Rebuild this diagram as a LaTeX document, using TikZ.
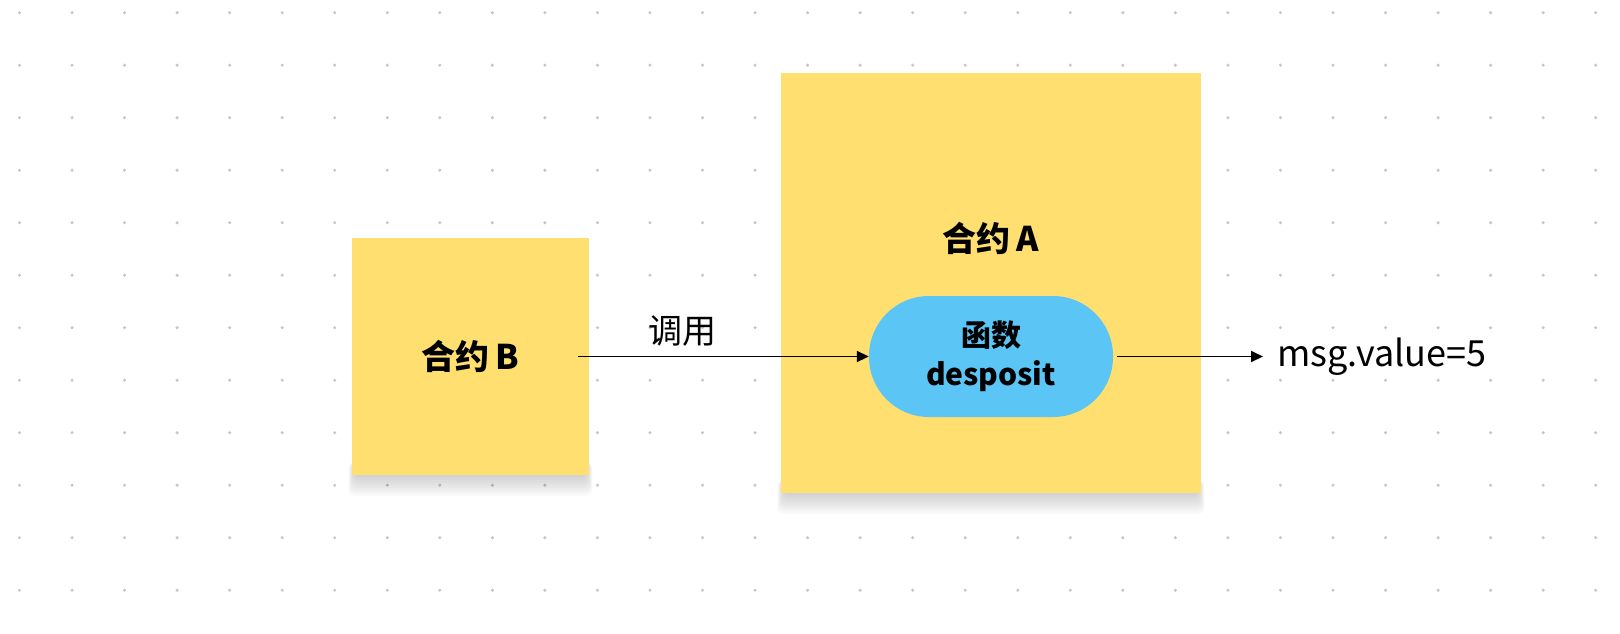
\documentclass[tikz,border=0pt]{standalone}
\usepackage{fontspec}
\setmainfont{Noto Sans CJK SC}
\usetikzlibrary{positioning,arrows.meta}
\definecolor{notey}{HTML}{FEDF6F}
\definecolor{fnblue}{HTML}{5BC5F5}
\definecolor{griddot}{HTML}{C6C6C6}
\begin{document}
\begin{tikzpicture}[
  x=1pt, y=-1pt,
  note/.style={rectangle, fill=notey, inner sep=0pt},
  fn/.style={rectangle, rounded corners=60pt, fill=fnblue, minimum width=244pt, minimum height=121pt, align=center, font=\fontsize{30}{39}\selectfont\bfseries},
  arr/.style={-{Triangle[length=12pt,width=11pt]}, line width=1.8pt},
  font=\fontsize{34}{40}\selectfont
]
\useasboundingbox (0,0) rectangle (1620,633);

% dot grid
\foreach \i in {0,...,30}
  \foreach \j in {0,...,11}
    \fill[griddot] (19.5+52.54*\i, 12.7+52.5*\j) circle (1.7);

% shadows under the notes
\foreach \k in {1,...,8} {
  \fill[black, opacity=0.022, rounded corners=6pt] (355-0.8*\k, 462) rectangle (586+0.8*\k, 475+2.6*\k);
  \fill[black, opacity=0.022, rounded corners=6pt] (784-0.8*\k, 480) rectangle (1198+0.8*\k, 493+2.6*\k);
}

\node[note, minimum width=237pt, minimum height=237pt] (noteB) at (470.5,356.5) {\bfseries 合约\,B};
\node[note, minimum width=420pt, minimum height=420pt] (noteA) at (991,283) {};
\node[font=\fontsize{34}{40}\selectfont\bfseries] (titleA) at (991,238) {合约\,A};
\node[fn] (fnA) at (991,356.5) {函数\\desposit};
\node[anchor=west, inner sep=0pt, font=\fontsize{36}{40}\selectfont] (val) at (1277,356.5) {msg.value=5};

% call arrow
\draw[arr] ([xshift=-11pt]noteB.east) -- node[pos=0.36, above=6pt, font=\fontsize{34}{40}\selectfont] (call) {调用} (fnA.west);
% output arrow
\draw[arr] ([xshift=4pt]fnA.east) -- ([xshift=-14pt]val.west);
\end{tikzpicture}
\end{document}
